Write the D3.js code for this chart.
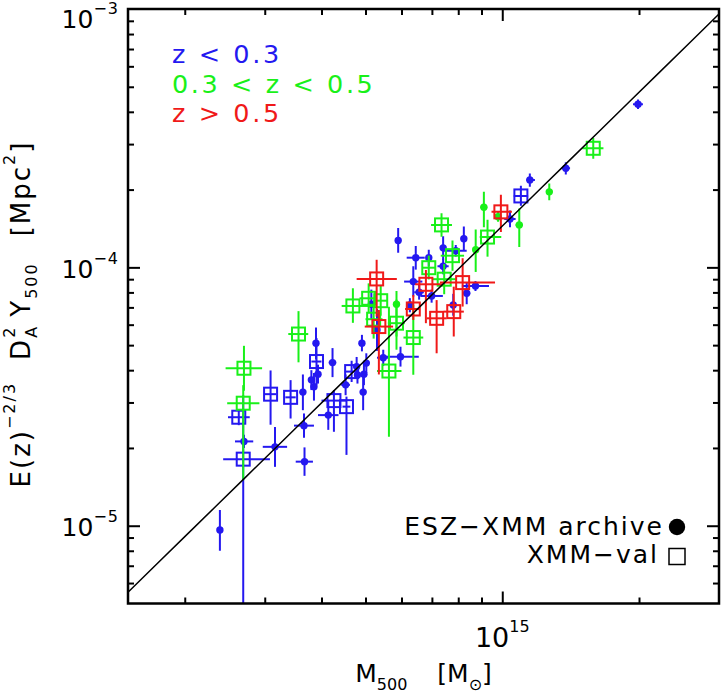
<!DOCTYPE html>
<html><head><meta charset="utf-8">
<script src="https://cdn.jsdelivr.net/npm/d3@7"></script>
<style>body{margin:0;background:#fff} text{font-family:'DejaVu Sans',sans-serif;fill:#000}</style>
</head><body>
<script>
// Units: mass in 1e14 Msun, Y in 1e-5 Mpc^2. Rows: [M, M_lo, M_hi, Y, Y_lo, Y_hi]
const blueArchive = [
  [19.9,19.4,20.4,42.8,41.0,44.6],
  [13.8,13.5,14.1,24.2,22.9,25.5],
  [11.5,11.3,11.8,21.8,20.5,23.1],
  [10.4,10.1,10.7,15.4,14.3,16.6],
  [5.90,5.85,5.95,12.7,11.4,14.2],
  [6.45,6.16,6.75,10.9,9.8,12.1],
  [7.41,7.30,7.52,11.9,10.7,13.2],
  [8.23,8.10,8.36,12.9,11.6,14.4],
  [7.41,7.20,7.62,10.1,9.4,10.8],
  [6.37,6.08,6.67,8.81,7.7,10.1],
  [6.56,6.40,6.72,8.01,7.5,8.6],
  [6.99,6.60,7.40,7.75,7.3,8.2],
  [8.73,8.15,9.35,8.47,8.1,8.85],
  [8.35,8.20,8.50,7.94,7.2,8.7],
  [7.80,7.65,7.95,7.15,6.5,7.9],
  [4.91,4.85,4.97,5.09,4.73,5.48],
  [5.97,5.45,6.55,4.51,4.13,4.93],
  [5.47,5.30,5.65,4.47,4.15,4.80],
  [4.23,4.15,4.31,4.28,3.76,4.87],
  [5.02,4.95,5.10,4.26,3.90,4.65],
  [4.78,4.70,4.86,4.13,3.80,4.50],
  [4.96,4.88,5.04,3.86,3.50,4.25],
  [4.80,4.72,4.88,3.83,3.55,4.15],
  [4.52,4.42,4.62,3.51,3.20,3.85],
  [4.94,4.86,5.02,3.29,2.80,3.85],
  [3.64,3.58,3.70,3.29,2.80,3.85],
  [3.80,3.74,3.86,3.67,3.35,4.00],
  [3.85,3.79,3.91,3.45,3.05,3.90],
  [3.93,3.87,3.99,3.86,3.55,4.20],
  [3.89,3.83,3.95,5.09,4.40,5.85],
  [3.66,3.48,3.85,2.44,2.19,2.72],
  [3.67,3.51,3.83,1.77,1.56,2.01],
  [3.16,2.97,3.36,2.02,1.69,2.41],
  [2.70,2.58,2.83,2.12,2.00,2.25],
  [2.39,2.36,2.42,0.963,0.80,1.15],
  [4.14,3.93,4.36,2.68,2.35,3.06],
  [5.15,5.10,5.20,7.20,6.30,8.20],
  [5.30,5.25,5.35,5.72,4.75,6.90],
  [6.26,6.15,6.37,7.15,6.70,7.60],
  [6.89,6.80,6.98,10.9,10.1,11.7],
  [7.90,7.45,8.35,11.6,11.0,12.2]
];
const greenArchive = [
  [12.69,12.5,12.9,19.6,18.2,21.1],
  [10.9,10.7,11.1,14.6,12.0,16.9],
  [9.11,8.95,9.27,17.1,14.3,19.6],
  [9.79,9.65,9.93,15.7,15.0,16.5],
  [8.74,8.60,8.88,11.7,9.6,14.0],
  [5.85,5.75,5.95,7.2,5.4,8.1]
];
const blueVal = [
  [10.99,10.6,11.4,18.9,17.3,20.7],
  [3.90,3.80,4.00,4.32,3.50,5.33],
  [3.09,3.00,3.18,3.23,2.46,3.99],
  [3.42,3.33,3.51,3.14,2.60,3.66],
  [2.63,2.49,2.78,2.63,2.45,2.83],
  [2.69,2.43,3.08,1.81,0.30,3.20],
  [4.26,4.00,4.54,3.05,2.31,3.35],
  [4.54,4.45,4.63,2.89,1.88,3.16],
  [4.66,4.50,4.82,3.95,3.60,4.35]
];
const greenVal = [
  [15.86,15.0,16.7,28.9,26.3,31.7],
  [9.28,8.92,9.95,13.1,11.0,15.3],
  [7.35,6.97,7.75,14.6,13.15,16.2],
  [7.77,7.32,8.24,11.1,9.7,12.7],
  [6.89,6.66,7.13,9.97,8.98,11.1],
  [7.45,7.02,7.90,9.0,7.87,10.3],
  [4.69,4.43,5.19,7.09,6.1,8.3],
  [5.08,4.85,5.30,7.59,6.64,8.67],
  [5.40,5.20,5.60,7.43,6.5,8.5],
  [5.21,5.00,5.45,6.30,5.3,7.2],
  [5.85,5.60,6.10,6.08,4.8,7.5],
  [6.37,6.06,6.70,5.35,3.84,7.16],
  [5.63,5.30,6.00,3.97,2.21,7.04],
  [3.56,3.38,3.74,5.52,4.29,6.77],
  [2.70,2.46,2.96,4.07,3.33,4.97],
  [2.69,2.48,2.92,2.98,1.50,3.50]
];
const redVal = [
  [9.93,9.47,10.5,16.4,13.7,19.1],
  [5.29,4.78,5.86,9.02,6.45,10.7],
  [6.79,6.43,7.40,8.60,6.08,9.77],
  [8.18,7.29,9.64,8.73,7.05,10.85],
  [6.37,6.11,6.59,6.90,6.26,7.82],
  [7.17,6.82,7.54,6.35,4.65,7.47],
  [7.82,7.43,8.23,6.74,5.40,8.42],
  [5.35,4.98,5.75,5.90,3.85,6.84]
];
// best-fit power law: Y = fitNorm * (M / fitPivot)^fitSlope
const fitPivot = 6e14, fitNorm = 6.0e-5, fitSlope = 1.72;
const xDomain = [1.5e14, 3e15], yDomain = [5e-6, 1e-3];
const xTickLabels = [{v:1e15, exp:"15"}];
const yTickLabels = [{v:1e-5, exp:"\u22125"},{v:1e-4, exp:"\u22124"},{v:1e-3, exp:"\u22123"}];
const zLegend = [{t:"z < 0.3", c:"blue"},{t:"0.3 < z < 0.5", c:"green"},{t:"z > 0.5", c:"red"}];

const COL = {blue:"#2418f0", green:"#19f019", red:"#f01919"};
const MU = 1e14, YU = 1e-5;
const W=724, H=692, L=128, R=719, T=9, B=603.5;

const x = d3.scaleLog().domain(xDomain).range([L,R]);
const y = d3.scaleLog().domain(yDomain).range([B,T]);

const svg = d3.select("body").append("svg").attr("width",W).attr("height",H);
svg.append("rect").attr("width",W).attr("height",H).attr("fill","#fff");
svg.append("clipPath").attr("id","clip").append("rect")
  .attr("x",L).attr("y",T).attr("width",R-L).attr("height",B-T);
const plot = svg.append("g").attr("clip-path","url(#clip)");

function drawGroup(rows, color, shape){
  const g = plot.append("g").attr("stroke",color).attr("stroke-width",2);
  rows.forEach(r=>{
    const [m,mlo,mhi,v,vlo,vhi] = r;
    const cx = x(m*MU), cy = y(v*YU);
    g.append("line").attr("x1",x(mlo*MU)).attr("x2",x(mhi*MU)).attr("y1",cy).attr("y2",cy);
    g.append("line").attr("x1",cx).attr("x2",cx).attr("y1",y(Math.max(vlo,0.01)*YU)).attr("y2",y(vhi*YU));
  });
  rows.forEach(r=>{
    const cx = x(r[0]*MU), cy = y(r[3]*YU);
    if(shape==="circle") g.append("circle").attr("cx",cx).attr("cy",cy).attr("r",3.7).attr("fill",color).attr("stroke","none");
    else g.append("rect").attr("x",cx-6.5).attr("y",cy-6.5).attr("width",13).attr("height",13).attr("fill","none");
  });
}
drawGroup(blueArchive, COL.blue, "circle");
drawGroup(blueVal, COL.blue, "square");
drawGroup(greenArchive, COL.green, "circle");
drawGroup(greenVal, COL.green, "square");
drawGroup(redVal, COL.red, "square");

// fit line
const fit = m => fitNorm*Math.pow(m/fitPivot, fitSlope);
const fitM = d3.range(0,21).map(i=>xDomain[0]*Math.pow(xDomain[1]/xDomain[0], i/20));
plot.append("path").datum(fitM)
  .attr("d", d3.line().x(m=>x(m)).y(m=>y(fit(m))))
  .attr("fill","none").attr("stroke","#000").attr("stroke-width",1.5);

// axes
const isMajor = v => Math.abs(Math.log10(v)-Math.round(Math.log10(v)))<1e-6;
const xt = x.ticks().filter(v=>v>xDomain[0]*1.001 && v<xDomain[1]*0.999);
const yt = y.ticks().filter(v=>v>yDomain[0]*1.001 && v<yDomain[1]*0.999);
function axes(axisFn, scale, vals, tx, ty){
  [[vals.filter(v=>!isMajor(v)),6],[vals.filter(isMajor),12]].forEach(([tv,len])=>{
    const a = svg.append("g").attr("transform",`translate(${tx},${ty})`)
      .call(axisFn(scale).tickValues(tv).tickSize(-len).tickSizeOuter(0).tickFormat(""));
    a.select(".domain").remove();
    a.selectAll("line").attr("stroke","#000").attr("stroke-width",2);
  });
}
axes(d3.axisBottom, x, xt, 0, B);
axes(d3.axisTop, x, xt, 0, T);
axes(d3.axisLeft, y, yt, L, 0);
axes(d3.axisRight, y, yt, R, 0);
svg.append("rect").attr("x",L).attr("y",T).attr("width",R-L).attr("height",B-T)
  .attr("fill","none").attr("stroke","#000").attr("stroke-width",2.5);

// tick labels
xTickLabels.forEach(d=>{
  const t = svg.append("text").attr("x",x(d.v)).attr("y",646.5).attr("text-anchor","middle")
    .attr("font-size",27);
  t.append("tspan").text("10");
  t.append("tspan").attr("dy",-15).attr("font-size",16).text(d.exp);
});
yTickLabels.forEach(d=>{
  const t = svg.append("text").attr("x",119).attr("y",Math.max(y(d.v)+10.5,28.3))
    .attr("text-anchor","end").attr("font-size",25);
  t.append("tspan").text("10");
  t.append("tspan").attr("dy",-14).attr("font-size",16).attr("letter-spacing",1).text(d.exp);
});

// axis titles
const xt1 = svg.append("text").attr("x",(L+R)/2).attr("y",681.5).attr("text-anchor","middle").attr("font-size",25);
xt1.append("tspan").text("M");
xt1.append("tspan").attr("dy",8).attr("font-size",16).text("500");
xt1.append("tspan").attr("dy",-8).attr("dx",30).text("[M");
xt1.append("tspan").attr("dy",8).attr("font-size",16).text("\u2299");
xt1.append("tspan").attr("dy",-8).text("]");

const yg = svg.append("g").attr("transform","translate(30,314) rotate(-90)");
const yt1 = yg.append("text").attr("text-anchor","middle").attr("font-size",26).attr("letter-spacing",2);
yt1.append("tspan").text("E(z)");
yt1.append("tspan").attr("dy",-15).attr("font-size",16).text("\u22122/3");
yt1.append("tspan").attr("dy",15).attr("dx",22).text("D");
yt1.append("tspan").attr("dy",-15).attr("font-size",16).text("2");
yt1.append("tspan").attr("dy",22).attr("dx",-12).attr("font-size",16).text("A");
yt1.append("tspan").attr("dy",-7).attr("dx",8).text("Y");
yt1.append("tspan").attr("dy",7).attr("font-size",16).text("500");
yt1.append("tspan").attr("dy",-7).attr("dx",26).text("[Mpc");
yt1.append("tspan").attr("dy",-15).attr("font-size",16).text("2");
yt1.append("tspan").attr("dy",15).text("]");

// redshift legend
zLegend.forEach((d,i)=>{
  svg.append("text").attr("x",172).attr("y",63+i*29.5).attr("font-size",25.5)
    .attr("letter-spacing",2.6).style("fill",COL[d.c]).text(d.t);
});

// sample legend
svg.append("text").attr("x",664).attr("y",535).attr("text-anchor","end").attr("font-size",25)
  .attr("letter-spacing",2).text("ESZ\u2212XMM archive");
svg.append("circle").attr("cx",677).attr("cy",527).attr("r",8.2).attr("fill","#000");
svg.append("text").attr("x",659).attr("y",563).attr("text-anchor","end").attr("font-size",25)
  .attr("letter-spacing",2).text("XMM\u2212val");
svg.append("rect").attr("x",669).attr("y",548.5).attr("width",16).attr("height",16)
  .attr("fill","none").attr("stroke","#000").attr("stroke-width",1.5);
</script>
</body></html>
